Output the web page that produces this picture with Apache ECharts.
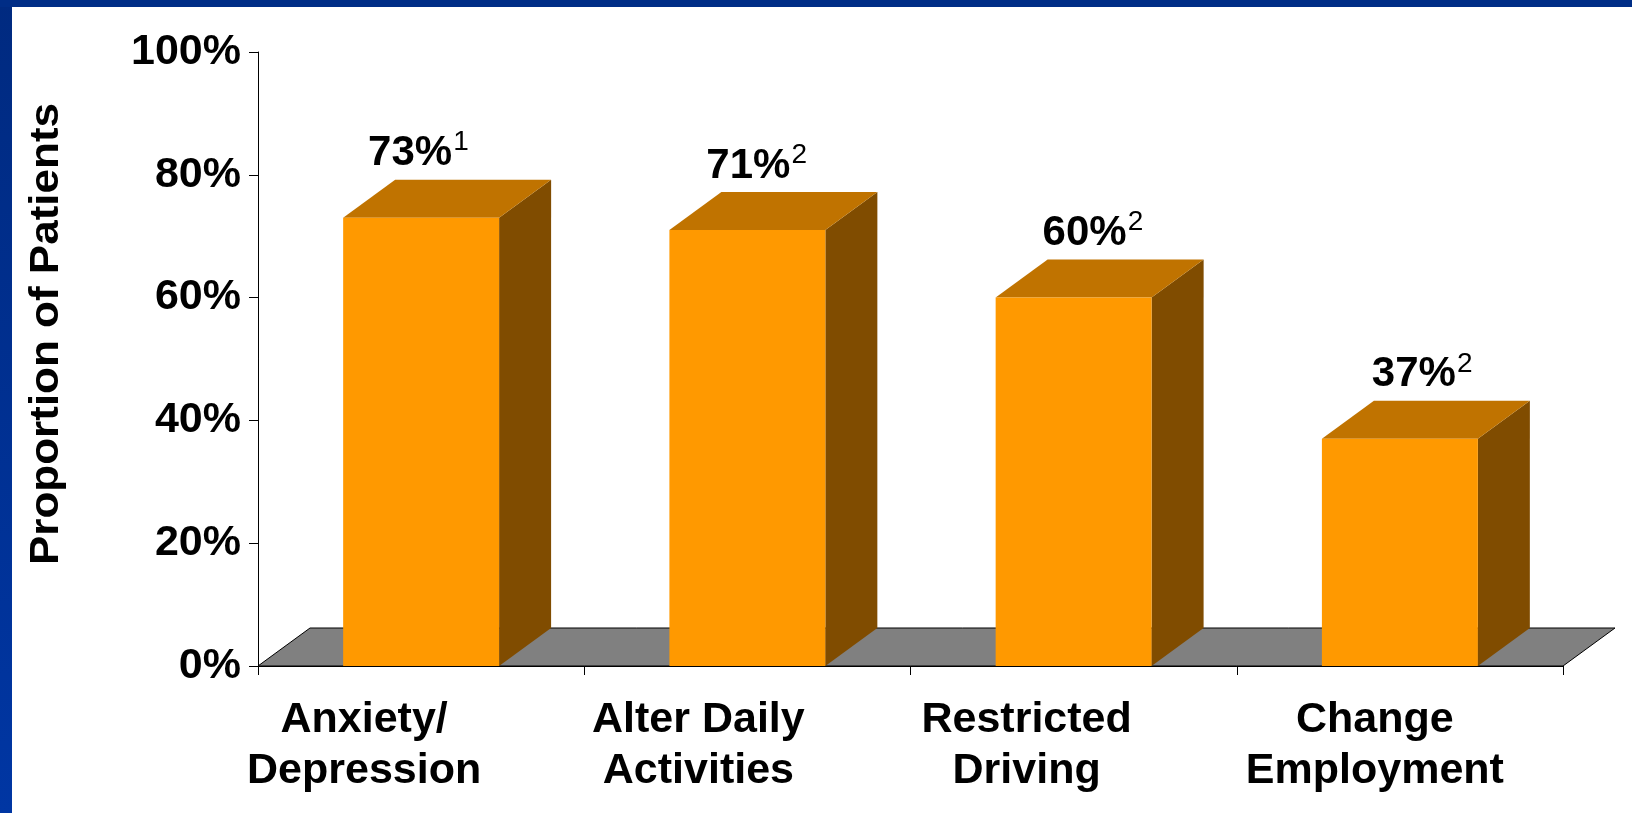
<!DOCTYPE html>
<html>
<head>
<meta charset="utf-8">
<script src="https://cdn.jsdelivr.net/npm/echarts@6/dist/echarts.min.js"></script>
<style>
  html, body { margin: 0; padding: 0; background: #ffffff; }
  #chart { width: 1632px; height: 813px; }
</style>
</head>
<body>
<div id="chart"></div>
<script>
// Chart data
const categories = ['Anxiety/\nDepression', 'Alter Daily\nActivities', 'Restricted\nDriving', 'Change\nEmployment'];
const values = [73, 71, 60, 37];
const footnotes = ['1', '2', '2', '2'];
const axisTitle = 'Proportion of Patients';

// Look of the 3D blocks
const FONT = '"Liberation Sans", Arial, sans-serif';
const FRONT = '#FF9900';
const TOP = '#C07300';
const SIDE = '#804C00';
const FLOOR = '#808080';
const DX = 52;          // depth offset to the right
const DY = 38;          // depth offset upward
const BAR_RATIO = 0.478;
// x of the point where the value text ends and its footnote mark begins, relative to the category centre
const valueLabelJoin = [31, 43, 53, 56];
const categoryLabelNudge = [-57, -49, -47, -25];

const chart = echarts.init(document.getElementById('chart'), null, { renderer: 'canvas' });

function renderFloor(params, api) {
  const cs = params.coordSys;
  const yb = cs.y + cs.height;
  return {
    type: 'polygon',
    shape: { points: [[cs.x, yb], [cs.x + cs.width, yb], [cs.x + cs.width + DX, yb - DY], [cs.x + DX, yb - DY]] },
    style: { fill: FLOOR, stroke: '#000000', lineWidth: 1 }
  };
}

function renderBlock(params, api) {
  const i = api.value(0);
  const v = api.value(1);
  const top = api.coord([i, v]);
  const base = api.coord([i, 0]);
  const w = api.size([1, 0])[0] * BAR_RATIO;
  const x0 = top[0] - w / 2;
  const x1 = top[0] + w / 2;
  const yT = top[1];
  const yB = base[1];
  const jx = top[0] + valueLabelJoin[i];
  const ly = yT - DY - 26;
  return {
    type: 'group',
    children: [
      { type: 'polygon', shape: { points: [[x1, yT], [x1 + DX, yT - DY], [x1 + DX, yB - DY], [x1, yB]] }, style: { fill: SIDE } },
      { type: 'polygon', shape: { points: [[x0, yT], [x1, yT], [x1 + DX, yT - DY], [x0 + DX, yT - DY]] }, style: { fill: TOP } },
      { type: 'rect', shape: { x: x0, y: yT, width: w, height: yB - yT }, style: { fill: FRONT } },
      {
        type: 'text', x: jx, y: ly,
        style: { text: v + '%', font: 'bold 42px ' + FONT, align: 'right', verticalAlign: 'middle', fill: '#000000' }
      },
      {
        type: 'text', x: jx + 1, y: ly - 11,
        style: { text: footnotes[i], font: '28px ' + FONT, align: 'left', verticalAlign: 'middle', fill: '#000000' }
      }
    ]
  };
}

const catRich = {};
categoryLabelNudge.forEach(function (d, k) {
  catRich['c' + k] = {
    fontSize: 43, fontWeight: 'bold', fontFamily: FONT, color: '#000000', lineHeight: 51,
    padding: d < 0 ? [0, -2 * d, 0, 0] : [0, 0, 0, 2 * d]
  };
});

chart.setOption({
  animation: false,
  backgroundColor: '#ffffff',
  grid: { left: 258, right: 69, top: 52, bottom: 147 },
  xAxis: {
    type: 'category',
    data: categories,
    boundaryGap: true,
    z: 5,
    axisLine: { show: true, lineStyle: { color: '#000000', width: 1 } },
    axisTick: { show: true, length: 9, lineStyle: { color: '#000000', width: 1 } },
    axisLabel: {
      interval: 0,
      margin: 29,
      formatter: function (val, idx) {
        return val.split('\n').map(function (line) { return '{c' + idx + '|' + line + '}'; }).join('\n');
      },
      rich: catRich
    },
    splitLine: { show: false }
  },
  yAxis: {
    type: 'value',
    min: 0,
    max: 100,
    interval: 20,
    z: 5,
    axisLine: { show: true, lineStyle: { color: '#000000', width: 1 } },
    axisTick: { show: true, length: 9, lineStyle: { color: '#000000', width: 1 } },
    axisLabel: {
      formatter: '{value}%',
      fontSize: 43,
      fontWeight: 'bold',
      fontFamily: FONT,
      color: '#000000',
      margin: 17
    },
    splitLine: { show: false }
  },
  series: [
    { type: 'custom', z: 1, renderItem: renderFloor, data: [[0, 0]], silent: true },
    { type: 'custom', z: 2, renderItem: renderBlock, data: values.map(function (v, i) { return [i, v]; }) }
  ],
  graphic: [
    {
      type: 'rect', left: 0, top: 0, z: 100,
      shape: { width: 12, height: 813 },
      style: { fill: new echarts.graphic.LinearGradient(0, 0, 0, 1, [{ offset: 0, color: '#002a80' }, { offset: 1, color: '#0036a3' }]) }
    },
    { type: 'rect', left: 0, top: 0, z: 100, shape: { width: 1632, height: 7 }, style: { fill: '#002d86' } },
    {
      type: 'text', x: 47, y: 334, rotation: Math.PI / 2, scaleX: 1.1, z: 50,
      style: { text: axisTitle, font: 'bold 40px ' + FONT, align: 'center', verticalAlign: 'middle', fill: '#000000' }
    }
  ]
});
</script>
</body>
</html>
